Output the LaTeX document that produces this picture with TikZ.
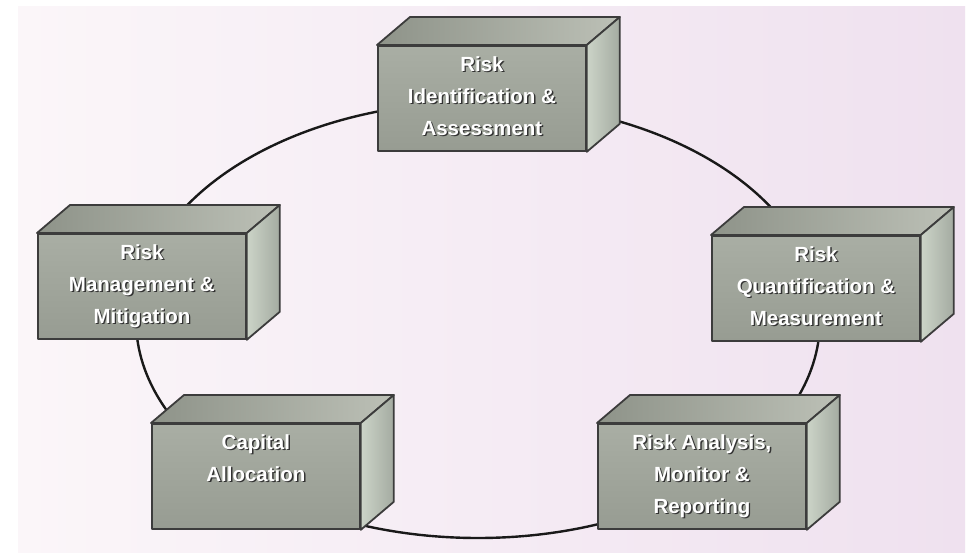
\documentclass[tikz,border=0pt]{standalone}
\usepackage{fontspec}
\newfontfamily\boxfont{Liberation Sans}
\usetikzlibrary{calc}

\definecolor{bgLeft}{HTML}{FBF6F9}
\definecolor{bgRight}{HTML}{EFE1EF}
\definecolor{frontTop}{HTML}{A9AEA4}
\definecolor{frontBot}{HTML}{979C92}
\definecolor{topLeft}{HTML}{8E9389}
\definecolor{topRight}{HTML}{BCC0B6}
\definecolor{sideLeft}{HTML}{CCD4C8}
\definecolor{sideRight}{HTML}{A4ABA1}
\definecolor{edge}{HTML}{3C3C3C}

\tikzset{
  ring/.style={line width=2.4pt, draw=black!90},
  face/.style={draw=edge, line width=1.8pt, line join=round,
    top color=frontTop, bottom color=frontBot,
    minimum width=208pt, minimum height=105pt, inner sep=0pt},
  topface/.style={draw=edge, line width=1.8pt, line join=round,
    left color=topLeft, right color=topRight},
  sideface/.style={draw=edge, line width=1.8pt, line join=round,
    left color=sideLeft, right color=sideRight},
  boxlabel/.style={text=white, align=center, anchor=north, inner sep=0pt,
    font=\boxfont\bfseries\fontsize{20.5}{32}\selectfont},
  boxshadow/.style={boxlabel, text=black!80},
}

% one 3-D block: name, x and y of the front face's top-left corner, label
\newcommand\riskbox[4]{%
  \node[face, anchor=north west] (#1) at (#2,-#3) {};
  \shadedraw[topface] (#1.north west) -- ++(33,28)
     -- ($(#1.north east)+(33,28)$) -- (#1.north east) -- cycle;
  \shadedraw[sideface] (#1.north east) -- ++(33,28)
     -- ($(#1.south east)+(33,28)$) -- (#1.south east) -- cycle;
  \node[boxshadow] (#1-s) at ($(#1.north)+(1.4,-12.4)$) {#4};
  \node[boxlabel] (#1-t) at ($(#1.north)+(0,-11)$) {#4};
}

\begin{document}
\begin{tikzpicture}[x=1pt,y=1pt]
  \useasboundingbox (0,0) rectangle (969,-553);
  \fill[white] (0,0) rectangle (969,-553);
  \shade[left color=bgLeft, right color=bgRight] (18,-7) rectangle (965,-553);

  % the cycle linking the five stages
  \draw[ring] (478,-320) ellipse [x radius=342, y radius=218];

  \riskbox{ident}{377}{45}{Risk\\Identification \&\\Assessment}
  \riskbox{quant}{711}{235}{Risk\\Quantification \&\\Measurement}
  \riskbox{anal}{597}{423}{Risk Analysis,\\Monitor \&\\Reporting}
  \riskbox{capital}{151}{423}{Capital\\Allocation}
  \riskbox{mgmt}{37}{233}{Risk\\Management \&\\Mitigation}
\end{tikzpicture}
\end{document}
